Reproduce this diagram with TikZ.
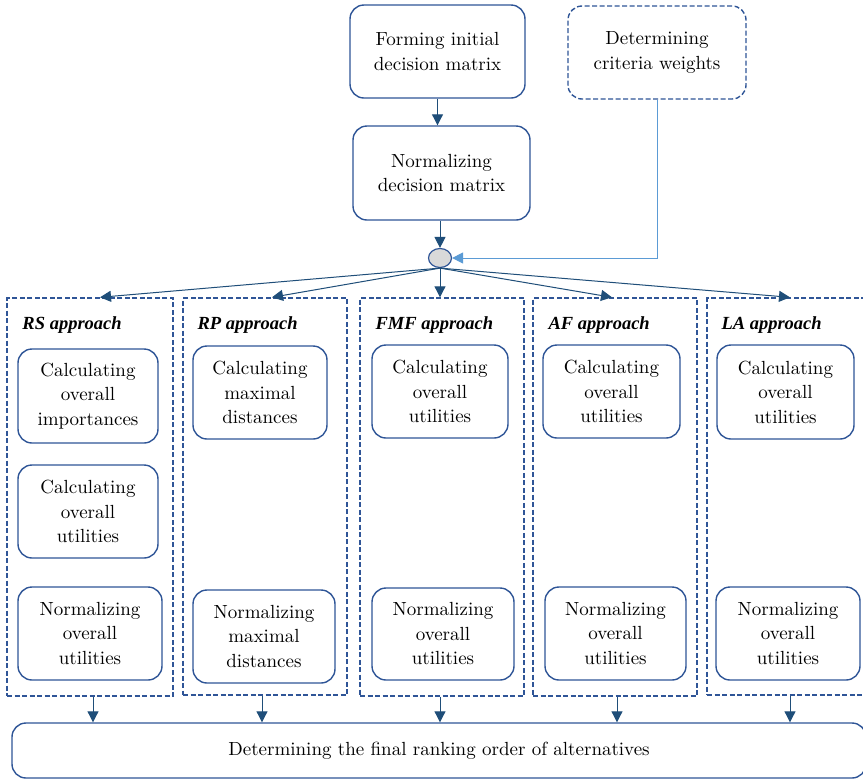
\documentclass[tikz,border=0pt]{standalone}
\usepackage{fontspec}
\setmainfont{lmroman10-regular.otf}[BoldItalicFont=lmroman10-bolditalic.otf, ItalicFont=lmroman10-italic.otf, BoldFont=lmroman10-bold.otf]
\newfontfamily\ttlfont{Liberation Serif}
\usetikzlibrary{arrows.meta,shapes.geometric}
\definecolor{bbox}{HTML}{2F5597}
\definecolor{arrc}{HTML}{1F4E79}
\definecolor{lightb}{HTML}{5B9BD5}
\definecolor{cfill}{HTML}{D9D9D9}
\tikzset{
  box/.style={draw=bbox, line width=1.4pt, rounded corners=14pt, align=center, inner sep=0pt, font=\fontsize{19}{24.5}\selectfont},
  dbox/.style={box, dash pattern=on 5pt off 2.5pt},
  col/.style={draw=bbox, line width=1.4pt, dash pattern=on 5pt off 2.5pt, inner sep=0pt},
  ttl/.style={anchor=base west, inner sep=0pt, font=\ttlfont\fontsize{18.5}{24}\selectfont\bfseries\itshape},
  arr/.style={draw=arrc, line width=1pt, -{Triangle[length=11pt,width=11pt]}},
  arrl/.style={draw=lightb, line width=1pt, -{Triangle[length=11pt,width=11pt]}},
}
\begin{document}
\begin{tikzpicture}[x=1pt,y=-1pt]
\clip (0,0) rectangle (863,780);
\fill[white] (0,0) rectangle (863,780);
% top
\node[box, minimum width=175pt, minimum height=93pt] (form) at (437.5,51.5) {Forming initial\\decision matrix};
\node[dbox, minimum width=178pt, minimum height=93pt] (crit) at (657,52.5) {Determining\\criteria weights};
\node[box, minimum width=177pt, minimum height=94pt] (norm) at (441.5,173) {Normalizing\\decision matrix};
\node[draw=bbox, line width=1.2pt, fill=cfill, ellipse, minimum width=23pt, minimum height=19pt, inner sep=0pt] (c) at (440,258) {};
% columns
\node[col, minimum width=166pt, minimum height=398pt] (rs) at (90,497) {};
\node[col, minimum width=164pt, minimum height=397pt] (rp) at (265,496.5) {};
\node[col, minimum width=164pt, minimum height=398pt] (fmf) at (442,497) {};
\node[col, minimum width=164pt, minimum height=398pt] (af) at (615,497) {};
\node[col, minimum width=166pt, minimum height=397pt] (la) at (790,496.5) {};
\node[ttl] (rst) at ([xshift=16pt,yshift=-32pt]rs.north west) {RS approach};
\node[ttl] (rpt) at ([xshift=15pt,yshift=-32pt]rp.north west) {RP approach};
\node[ttl] (fmft) at ([xshift=16pt,yshift=-32pt]fmf.north west) {FMF approach};
\node[ttl] (aft) at ([xshift=16pt,yshift=-32pt]af.north west) {AF approach};
\node[ttl] (lat) at ([xshift=15pt,yshift=-32pt]la.north west) {LA approach};
% inner boxes
\node[box, minimum width=140pt, minimum height=94pt] (rs1) at (88,396) {Calculating\\overall\\importances};
\node[box, minimum width=140pt, minimum height=93pt] (rs2) at (88,511.5) {Calculating\\overall\\utilities};
\node[box, minimum width=144pt, minimum height=93pt] (rs3) at (90,633.5) {Normalizing\\overall\\utilities};
\node[box, minimum width=134pt, minimum height=93pt] (rp1) at (260,392.5) {Calculating\\maximal\\distances};
\node[box, minimum width=142pt, minimum height=93pt] (rp3) at (264,636.5) {Normalizing\\maximal\\distances};
\node[box, minimum width=136pt, minimum height=93pt] (fmf1) at (440,391.5) {Calculating\\overall\\utilities};
\node[box, minimum width=142pt, minimum height=92pt] (fmf3) at (443,634) {Normalizing\\overall\\utilities};
\node[box, minimum width=137pt, minimum height=93pt] (af1) at (611.5,391.5) {Calculating\\overall\\utilities};
\node[box, minimum width=141pt, minimum height=93pt] (af3) at (615.5,633.5) {Normalizing\\overall\\utilities};
\node[box, minimum width=137pt, minimum height=94pt] (la1) at (785.5,392) {Calculating\\overall\\utilities};
\node[box, minimum width=144pt, minimum height=93pt] (la3) at (788,633.5) {Normalizing\\overall\\utilities};
% final
\node[box, minimum width=854pt, minimum height=55pt] (fin) at (439,750.5) {Determining the final ranking order of alternatives};
% connectors
\draw[arr] (form.south) -- (form.south |- norm.north);
\draw[arr] (norm.south -| c.north) -- (c.north);
\draw[arrl] (crit.south) |- (c.east);
\draw[arr] (c.south) -- ([xshift=10pt]rs.north);
\draw[arr] (c.south) -- ([xshift=7pt]rp.north);
\draw[arr] (c.south) -- (c.south |- fmf.north);
\draw[arr] (c.south) -- ([xshift=-3pt]af.north);
\draw[arr] (c.south) -- (la.north);
\draw[arr] ([xshift=3pt]rs.south) -- ([xshift=3pt]rs.south |- fin.north);
\draw[arr] ([xshift=-3pt]rp.south) -- ([xshift=-3pt]rp.south |- fin.north);
\draw[arr] ([xshift=-2pt]fmf.south) -- ([xshift=-2pt]fmf.south |- fin.north);
\draw[arr] ([xshift=2pt]af.south) -- ([xshift=2pt]af.south |- fin.north);
\draw[arr] (la.south) -- (la.south |- fin.north);
\end{tikzpicture}
\end{document}
